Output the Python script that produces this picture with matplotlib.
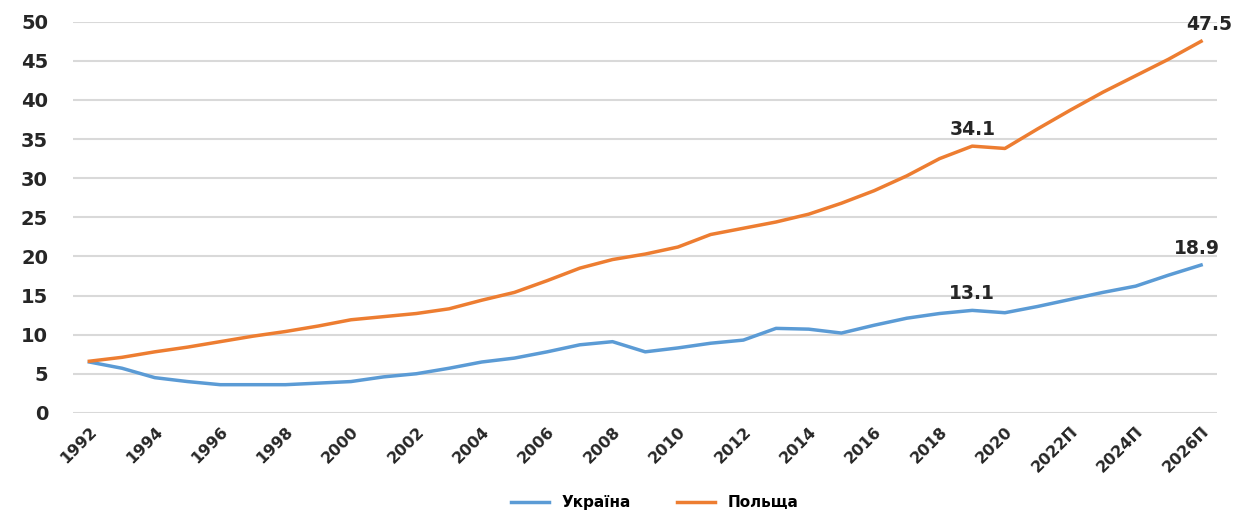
import matplotlib
matplotlib.use('Agg')
import matplotlib.pyplot as plt

# Data
years = [str(y) for y in range(1992, 2022)] + ['2022П', '2023П', '2024П', '2025П', '2026П']
ukraine = [6.5, 5.7, 4.5, 4.0, 3.6, 3.6, 3.6, 3.8, 4.0, 4.6,
           5.0, 5.7, 6.5, 7.0, 7.8, 8.7, 9.1, 7.8, 8.3, 8.9,
           9.3, 10.8, 10.7, 10.2, 11.2, 12.1, 12.7, 13.1, 12.8, 13.6,
           14.5, 15.4, 16.2, 17.6, 18.9]
poland = [6.6, 7.1, 7.8, 8.4, 9.1, 9.8, 10.4, 11.1, 11.9, 12.3,
          12.7, 13.3, 14.4, 15.4, 16.9, 18.5, 19.6, 20.3, 21.2, 22.8,
          23.6, 24.4, 25.4, 26.8, 28.4, 30.3, 32.5, 34.1, 33.8, 36.3,
          38.7, 41.0, 43.1, 45.2, 47.5]
labels_ua = {27: '13.1', 34: '18.9'}
labels_pl = {27: '34.1', 34: '47.5'}

blue = '#5B9BD5'
orange = '#ED7D31'

fig = plt.figure(figsize=(12.59, 5.18), dpi=100)
ax = fig.add_axes([0.058, 0.203, 0.909, 0.755])

x = list(range(len(years)))
ax.plot(x, ukraine, color=blue, linewidth=2.5, label='Україна')
ax.plot(x, poland, color=orange, linewidth=2.5, label='Польща')

for i, t in labels_ua.items():
    dx = 0 if i < len(years) - 1 else -3
    ax.annotate(t, (i, ukraine[i]), xytext=(dx, 5), textcoords='offset points',
                ha='center', va='bottom', fontsize=13.5, fontweight='bold', color='#262626')
for i, t in labels_pl.items():
    dx = 0 if i < len(years) - 1 else 6
    ax.annotate(t, (i, poland[i]), xytext=(dx, 5), textcoords='offset points',
                ha='center', va='bottom', fontsize=13.5, fontweight='bold', color='#262626')

ax.set_xlim(-0.5, len(years) - 0.5)
ax.set_ylim(0, 50)
ax.set_yticks(range(0, 51, 5))
ax.set_xticks(x[::2])
ax.set_xticklabels(years[::2], rotation=45, ha='right', rotation_mode='anchor')
ax.tick_params(axis='x', length=0, labelsize=11.5, colors='#262626', pad=8)
ax.tick_params(axis='y', length=0, labelsize=14, colors='#262626', pad=18)
for lbl in ax.get_xticklabels() + ax.get_yticklabels():
    lbl.set_fontweight('bold')

ax.grid(True, axis='y', color='#D9D9D9', linewidth=1.5)
ax.set_axisbelow(True)
for s in ax.spines.values():
    s.set_visible(False)

fig.legend(loc='lower center', bbox_to_anchor=(0.52, -0.012), ncol=2, frameon=False,
           handlelength=2.5, columnspacing=3, prop={'weight': 'bold', 'size': 11})

fig.savefig('out.png', dpi=100, facecolor='white')
